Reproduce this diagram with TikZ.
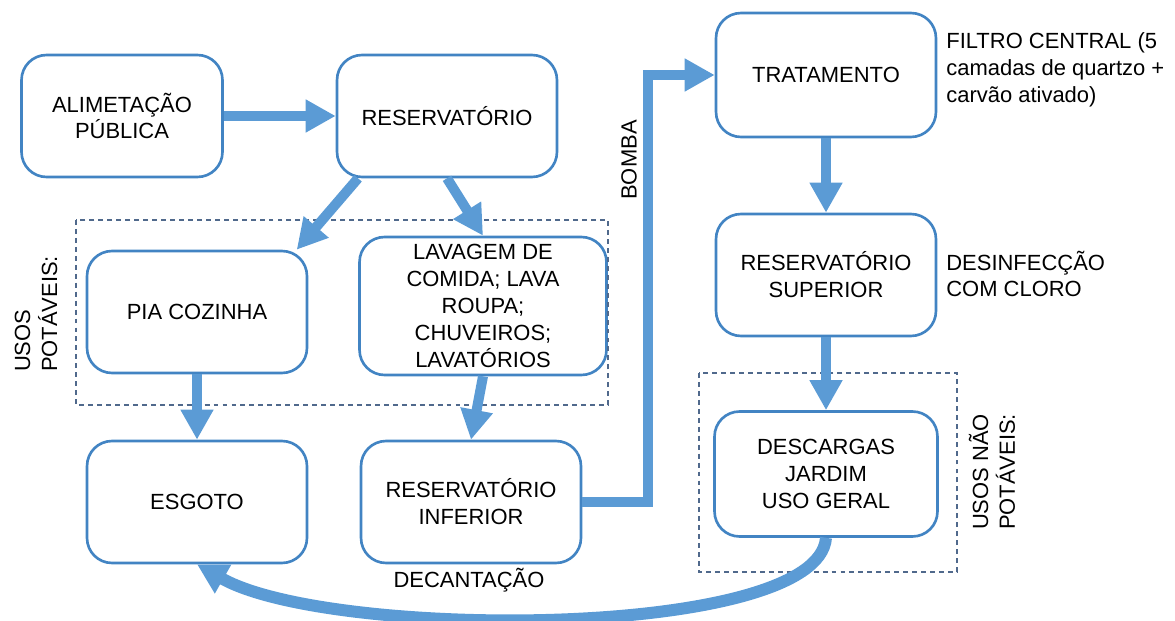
\documentclass[tikz,border=0pt]{standalone}
\usepackage{fontspec}
\setmainfont{Liberation Sans}
\usetikzlibrary{arrows.meta}
\definecolor{boxblue}{RGB}{66,132,195}
\definecolor{flowblue}{RGB}{91,155,213}
\definecolor{dashgray}{RGB}{80,105,140}

\begin{document}
\begin{tikzpicture}[x=0.02cm, y=-0.02cm]
        \tikzstyle{boxstyle}=[draw=boxblue, line width=1.5pt, rounded corners=0.5cm, fill=white, align=center, minimum width=4.4cm, minimum height=2.44cm, inner sep=2pt, font=\fontsize{12.5}{15.3}\selectfont]
        \tikzstyle{flowstyle}=[draw=flowblue, line width=0.2cm, -{Triangle[length=0.6cm, width=0.62cm]}]
        \tikzstyle{groupstyle}=[draw=dashgray, line width=0.8pt, dash pattern=on 2.8pt off 2.3pt]
        \tikzstyle{textstyle}=[align=left, inner sep=0pt, font=\fontsize{12.5}{15.3}\selectfont]
        \useasboundingbox (0,0) rectangle (1175,621);

        % supply side
        \node[boxstyle, minimum width=4.02cm] (alim) at (122,116) {ALIMETAÇÃO\\PÚBLICA};
        \node[boxstyle] (res) at (447,116) {RESERVATÓRIO};

        % potable uses
        \node[boxstyle] (pia) at (197,312) {PIA COZINHA};
        \node[boxstyle, minimum width=4.94cm, minimum height=2.76cm] (lav) at (483,306) {LAVAGEM DE\\COMIDA; LAVA\\ROUPA;\\CHUVEIROS;\\LAVATÓRIOS};
        \node[boxstyle] (esg) at (197,502) {ESGOTO};
        \node[boxstyle] (inf) at (471,502) {RESERVATÓRIO\\INFERIOR};

        % treatment line
        \node[boxstyle, minimum height=2.48cm] (trat) at (826,75) {TRATAMENTO};
        \node[boxstyle] (sup) at (826,275) {RESERVATÓRIO\\SUPERIOR};
        \node[boxstyle, minimum width=4.46cm, minimum height=2.5cm] (desc) at (826,474) {DESCARGAS\\JARDIM\\USO GERAL};

        % dashed groups
        \draw[groupstyle] (76,220) rectangle (608,405);
        \draw[groupstyle] (699,373) rectangle (957,572);

        % side texts
        \node[textstyle, rotate=90] (potaveis) at (36,314) {USOS\\POTÁVEIS:};
        \node[textstyle, rotate=90] (naopotaveis) at (992,472) {USOS NÃO\\POTÁVEIS:};
        \node[textstyle, rotate=90] (bomba) at (629,160) {BOMBA};
        \node[textstyle] (decant) at (469,580) {DECANTAÇÃO};
        \node[textstyle, anchor=west] (filtro) at (946,70) {FILTRO CENTRAL (5\\camadas de quartzo +\\carvão ativado)};
        \node[textstyle, anchor=west] (cloro) at (946,274) {DESINFECÇÃO\\COM CLORO};

        % flows between the boxes
        \draw[flowstyle] (alim) -- (res);
        \draw[flowstyle] (res.215) -- (pia.32);
        \draw[flowstyle] (res.south) -- (lav.north);
        \draw[flowstyle] (pia) -- (esg);
        \draw[flowstyle] (lav.south) -- (inf.north);
        \coordinate (pump) at (648,75);
        \draw[flowstyle] (inf.east) -| (pump) -- (trat.west);
        \draw[flowstyle] (trat) -- (sup);
        \draw[flowstyle] (sup) -- (desc);

        % return to the sewer
        \draw[flowstyle, line width=0.24cm] (desc.south) .. controls (818,640) and (330,640) .. (esg.south);
\end{tikzpicture}
\end{document}
